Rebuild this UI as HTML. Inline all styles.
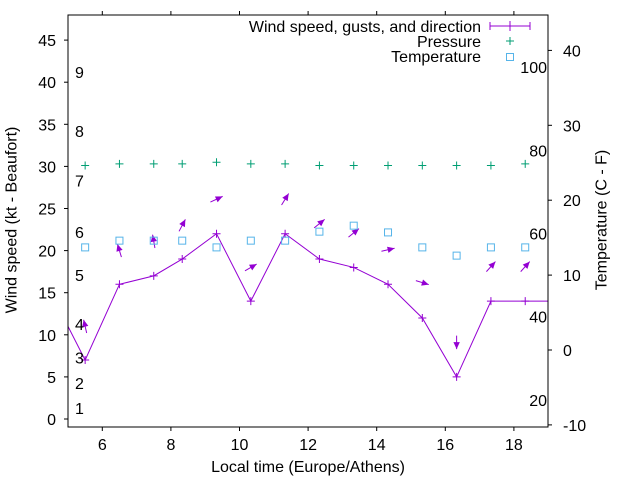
<!DOCTYPE html>
<html><head><meta charset="utf-8"><style>
body{margin:0;background:#fff;}
svg{display:block;font-family:"Liberation Sans",sans-serif;}
</style></head><body>
<svg id="chart" width="640" height="480" viewBox="0 0 640 480" xmlns="http://www.w3.org/2000/svg">
<rect x="0" y="0" width="640" height="480" fill="#fff"/>
<g id="plot"></g>
<rect x="68" y="15" width="480" height="412" fill="none" stroke="#000" stroke-width="1"/>
<text x="12" y="220" font-size="16" text-anchor="middle" transform="rotate(-90 12 220)" dominant-baseline="central">Wind speed (kt - Beaufort)</text>
<text x="602" y="220" font-size="16" text-anchor="middle" transform="rotate(-90 602 220)" dominant-baseline="central">Temperature (C - F)</text>
<text x="308" y="472" font-size="16" text-anchor="middle">Local time (Europe/Athens)</text>
<g>
<text x="481" y="32" font-size="16" text-anchor="end">Wind speed, gusts, and direction</text>
<text x="481" y="47" font-size="16" text-anchor="end">Pressure</text>
<text x="481" y="62" font-size="16" text-anchor="end">Temperature</text>
<path d="M490 26H530M490 22V30M530 22V30M510 21V31" stroke="#9400d3" fill="none"/>
<path d="M506 41H514M510 37V45" stroke="#009e73" fill="none"/>
<rect x="506.5" y="53.5" width="7" height="7" stroke="#56b4e9" fill="none"/>
</g>
</svg>
<script>
const times=[4.5,5.5,6.5,7.5,8.33,9.33,10.33,11.33,12.33,13.33,14.33,15.33,16.33,17.33,18.33,19.33];
const wind=[15,7,16,17,19,22,14,22,19,18,16,12,5,14,14,14];
const gust=[null,11,20,21.1,23,26.1,18,26.1,23.2,22.1,20.1,16.2,9.1,18.1,18.1,null];
const dirs=[null,347,343,350,28,65,60,32,51,51,77,107,180,42,42,null];
const pTimes=[5.5,6.5,7.5,8.33,9.33,10.33,11.33,12.33,13.33,14.33,15.33,16.33,17.33,18.33];
const pressure=[30.1,30.3,30.3,30.3,30.5,30.3,30.3,30.1,30.1,30.1,30.1,30.1,30.1,30.3];
const temp=[13.7,14.6,14.6,14.6,13.7,14.6,14.6,15.8,16.6,15.7,13.7,12.6,13.7,13.7];
const xTicks=[6,8,10,12,14,16,18];
const yTicks=[0,5,10,15,20,25,30,35,40,45];
const y2Ticks=[-10,0,10,20,30,40];
const beaufort=[["1",1.3],["2",4.3],["3",7.3],["4",11.3],["5",17.1],["6",22.2],["7",28.3],["8",34.2],["9",41.2]];
const fahr=[["100",100],["80",80],["60",60],["40",40],["20",20]];
const NS="http://www.w3.org/2000/svg";
const X=t=>68+(t-5)*34.3;
const Y=v=>419-v*8.42;
const Y2=c=>350-c*7.49;
const svg=document.getElementById('chart');
const plot=document.getElementById('plot');
function mk(tag,attrs,parent){const e=document.createElementNS(NS,tag);for(const k in attrs)e.setAttribute(k,attrs[k]);(parent||svg).appendChild(e);return e;}
const defs=mk('defs',{});const cp=mk('clipPath',{id:'clip'},defs);mk('rect',{x:68,y:15,width:480,height:412},cp);
plot.setAttribute('clip-path','url(#clip)');
xTicks.forEach(t=>{
 const l=mk('path',{d:`M${X(t)} 427V431M${X(t)} 15V11`,stroke:'#000'});
 
 
 const tx=mk('text',{x:X(t),y:450,'font-size':16,'text-anchor':'middle'});tx.textContent=t;
 
 
});
yTicks.forEach(v=>{
 const l=mk('path',{d:`M64 ${Y(v)}H68`,stroke:'#000'});
 
 
 const tx=mk('text',{x:56,y:Y(v)+6,'font-size':16,'text-anchor':'end'});tx.textContent=v;
 
 
});
y2Ticks.forEach(c=>{
 const l=mk('path',{d:`M548 ${Y2(c)}H552`,stroke:'#000'});
 
 
 const tx=mk('text',{x:563,y:Y2(c)+6,'font-size':16,'text-anchor':'start'});tx.textContent=c;
 
 
});
beaufort.forEach(b=>{
 const tx=mk('text',{x:75,y:Y(b[1])+6,'font-size':16});tx.textContent=b[0];
 
 
});
fahr.forEach(f=>{
 const c=(f[1]-32)*5/9;
 const tx=mk('text',{x:547,y:Y2(c)+6,'font-size':16,'text-anchor':'end'});tx.textContent=f[0];
 
 
});
const pl=mk('polyline',{points:times.map((t,i)=>X(t)+','+Y(wind[i])).join(' '),fill:'none',stroke:'#9400d3','stroke-width':1},plot);


times.forEach((t,i)=>{
 const x=X(t),y=Y(wind[i]);
 const p=mk('path',{d:`M${x-4} ${y}H${x+4}M${x} ${y-4}V${y+4}`,stroke:'#9400d3'},plot);
 
 
 if(gust[i]!==null){
  const a=dirs[i]*Math.PI/180,L=13.5;
  const ux=Math.sin(a),uy=-Math.cos(a);
  const cx=x,cy=Y(gust[i]);
  const tx=cx-ux*L/2,ty=cy-uy*L/2,hx=cx+ux*L/2,hy=cy+uy*L/2;
  const g=mk('g',{},plot);
  
  
  mk('line',{x1:tx,y1:ty,x2:hx,y2:hy,stroke:'#9400d3','stroke-width':1},g);
  const px=-uy,py=ux,bl=7,bw=3.2;
  const bx=hx-ux*bl,by=hy-uy*bl;
  mk('polygon',{points:`${hx},${hy} ${bx+px*bw},${by+py*bw} ${bx-px*bw},${by-py*bw}`,fill:'#9400d3'},g);
 }
});
pTimes.forEach((t,i)=>{
 const x=X(t),y=Y(pressure[i]);
 const p=mk('path',{d:`M${x-4} ${y}H${x+4}M${x} ${y-4}V${y+4}`,stroke:'#009e73'},plot);
 
 
 const y2=Y2(temp[i]);
 const r=mk('rect',{x:x-3.5,y:y2-3.5,width:7,height:7,fill:'none',stroke:'#56b4e9'},plot);
 
 
});
</script>
</body></html>
